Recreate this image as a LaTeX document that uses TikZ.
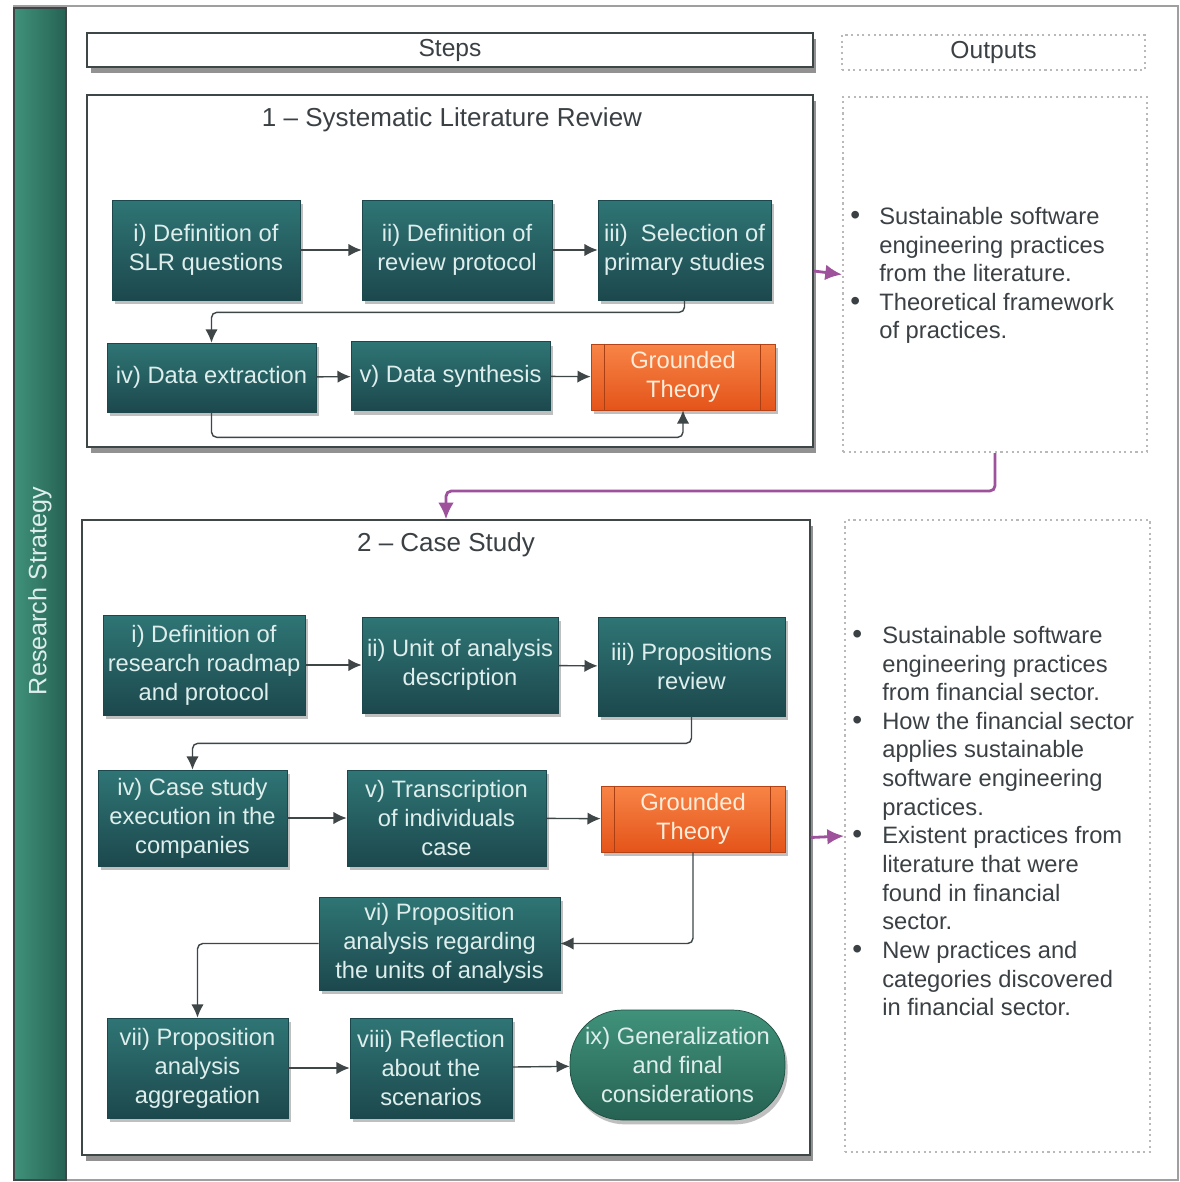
\documentclass[tikz,border=0pt]{standalone}
\usepackage{fontspec}
\setmainfont{Liberation Sans}
\usetikzlibrary{arrows.meta}
\usetikzlibrary{positioning}
\usetikzlibrary{shadows}
\definecolor{mteal}{RGB}{47,117,117}
\definecolor{mtealdark}{RGB}{28,72,77}
\definecolor{mgreen}{RGB}{64,146,122}
\definecolor{mgreendark}{RGB}{38,98,83}
\definecolor{morange}{RGB}{248,132,70}
\definecolor{morangedark}{RGB}{228,84,26}
\definecolor{mpurple}{RGB}{158,82,156}
\definecolor{mink}{RGB}{58,64,68}
\definecolor{mline}{RGB}{62,70,72}
\definecolor{mpale}{RGB}{222,238,236}
\newcommand{\boxfont}{\fontsize{13.5}{16.5}\selectfont}
\newcommand{\listfont}{\fontsize{13.5}{16.3}\selectfont}
\newcommand{\dotitem}{{\fontsize{16}{16}\selectfont\textbullet}}
\tikzset{stepbox/.style = {draw=mtealdark, top color=mteal, bottom color=mtealdark,
                           text=mpale, font=\boxfont, align=center, inner sep=2pt,
                           drop shadow={shadow xshift=1.5pt, shadow yshift=-2.5pt, opacity=0.5}},
         gtbox/.style = {stepbox, draw=morangedark!80!black, top color=morange,
                         bottom color=morangedark, text=orange!15},
         endbox/.style = {stepbox, top color=mgreen, bottom color=mgreendark,
                          draw=mgreendark!80!black, rounded corners=1.05cm},
         panel/.style = {draw=mline, fill=white, line width=0.9pt,
                         drop shadow={shadow xshift=2pt, shadow yshift=-3.5pt, opacity=0.85}},
         outbox/.style = {draw=gray!55, dotted, line width=1.2pt},
         flow/.style = {-{Latex[length=7.5pt, width=7pt]}, draw=mline, line width=0.8pt, rounded corners=3pt},
         link/.style = {-{Latex[length=9.5pt, width=9pt]}, draw=mpurple, line width=1.6pt, rounded corners=3pt},
         gtline/.style = {draw=morangedark!75!black, line width=0.6pt}}

\begin{document}
\begin{tikzpicture}[x=0.02cm, y=-0.02cm]
    \useasboundingbox (0,0) rectangle (1179,1182);
    \fill [white] (0,0) rectangle (1179,1182);

    \draw [gray!75, line width=1.2pt] (14,6) rectangle (1178,1180);
    \shade [left color=mgreen, right color=mgreendark, draw=mline, line width=0.8pt] (14,8) rectangle (66,1180);
    \node [rotate=90, text=mpale, font=\fontsize{14.3}{17}\selectfont] (strategy) at (40,591) {Research Strategy};

    \node [panel, minimum width=14.52cm, minimum height=0.68cm, text=mink, font=\fontsize{14}{17}\selectfont] (steps) at (450,50) {Steps};
    \node [outbox, minimum width=6.06cm, minimum height=0.7cm, text=mink, font=\fontsize{14}{17}\selectfont] (outputs) at (993.5,52.5) {Outputs};

    % systematic literature review
    \node [panel, minimum width=14.52cm, minimum height=7.04cm] (slr) at (450,271) {};
    \node [text=mink, font=\fontsize{14.8}{18}\selectfont] (slrtitle) at (452,120) {1 -- Systematic Literature Review};

    \node [stepbox, minimum width=3.76cm, minimum height=2cm] (slrq) at (206,250) {i) Definition of\\SLR questions};
    \node [stepbox, minimum width=3.8cm, minimum height=2cm] (slrprot) at (457,250) {ii) Definition of\\review protocol};
    \node [stepbox, minimum width=3.46cm, minimum height=2cm] (slrsel) at (684.5,250) {iii)~ Selection of\\primary studies};
    \node [stepbox, minimum width=4.18cm, minimum height=1.38cm] (slrext) at (211.5,377.5) {iv) Data extraction};
    \node [stepbox, minimum width=3.98cm, minimum height=1.38cm] (slrsyn) at (450.5,376) {v) Data synthesis};
    \node [gtbox, minimum width=3.68cm, minimum height=1.32cm] (slrgt) at (683,377) {Grounded\\Theory};
    \draw [gtline] ([xshift=0.28cm]slrgt.north west) -- ([xshift=0.28cm]slrgt.south west);
    \draw [gtline] ([xshift=-0.3cm]slrgt.north east) -- ([xshift=-0.3cm]slrgt.south east);

    \draw [flow] (slrq) -- (slrprot);
    \draw [flow] (slrprot) -- (slrsel);
    \draw [flow] (slrsel.south) -- ++(0,12) -| (slrext.north);
    \draw [flow] (slrext) -- (slrsyn);
    \draw [flow] (slrsyn) -- (slrgt);
    \draw [flow] (slrext.south) -- ++(0,25) -| (slrgt.south);

    \node [outbox, minimum width=6.08cm, minimum height=7.1cm] (slroutbox) at (995,274.5) {};
    \node [anchor=north west, inner sep=0pt, text=mink, font=\listfont] (slrout) at (850,204)
      {\begin{tabular}{@{}p{0.58cm}@{}l@{}}
         \dotitem & Sustainable software\\
                  & engineering practices\\
                  & from the literature.\\
         \dotitem & Theoretical framework\\
                  & of practices.
       \end{tabular}};

    % case study
    \node [panel, minimum width=14.56cm, minimum height=12.7cm] (cs) at (446,837.5) {};
    \node [text=mink, font=\fontsize{14.8}{18}\selectfont] (cstitle) at (446,545) {2 -- Case Study};

    \node [stepbox, minimum width=4.04cm, minimum height=2cm] (csroad) at (204,665) {i) Definition of\\research roadmap\\and protocol};
    \node [stepbox, minimum width=3.92cm, minimum height=1.92cm] (csunit) at (460,665) {ii) Unit of analysis\\description};
    \node [stepbox, minimum width=3.74cm, minimum height=1.98cm] (csprop) at (691.5,666.5) {iii) Propositions\\review};
    \node [stepbox, minimum width=3.78cm, minimum height=1.92cm] (csexec) at (192.5,818) {iv) Case study\\execution in the\\companies};
    \node [stepbox, minimum width=3.98cm, minimum height=1.92cm] (cstrans) at (446.5,818) {v) Transcription\\of individuals\\case};
    \node [gtbox, minimum width=3.68cm, minimum height=1.32cm] (csgt) at (693,819) {Grounded\\Theory};
    \draw [gtline] ([xshift=0.28cm]csgt.north west) -- ([xshift=0.28cm]csgt.south west);
    \draw [gtline] ([xshift=-0.3cm]csgt.north east) -- ([xshift=-0.3cm]csgt.south east);
    \node [stepbox, minimum width=4.82cm, minimum height=1.86cm] (csanal) at (439.5,943.5) {vi) Proposition\\analysis regarding\\the units of analysis};
    \node [stepbox, minimum width=3.62cm, minimum height=2cm] (csaggr) at (197.5,1068) {vii) Proposition\\analysis\\aggregation};
    \node [stepbox, minimum width=3.24cm, minimum height=2cm] (csrefl) at (431,1068) {viii) Reflection\\about the\\scenarios};
    \node [endbox, minimum width=4.3cm, minimum height=2.2cm] (csgen) at (677.5,1065) {ix) Generalization\\and final\\considerations};

    \draw [flow] (csroad) -- (csunit);
    \draw [flow] (csunit) -- (csprop);
    \draw [flow] (csprop.south) -- ++(0,27) -| (csexec.north);
    \draw [flow] (csexec) -- (cstrans);
    \draw [flow] (cstrans) -- (csgt);
    \draw [flow] (csgt.south) |- (csanal.east);
    \draw [flow] (csanal.west) -| (csaggr.north);
    \draw [flow] (csaggr) -- (csrefl);
    \draw [flow] (csrefl) -- (csgen);

    \node [outbox, minimum width=6.1cm, minimum height=12.64cm] (csoutbox) at (997.5,836) {};
    \node [anchor=north west, inner sep=0pt, text=mink, font=\listfont] (csout) at (852,623)
      {\begin{tabular}{@{}p{0.6cm}@{}l@{}}
         \dotitem & Sustainable software\\
                  & engineering practices\\
                  & from financial sector.\\
         \dotitem & How the financial sector\\
                  & applies sustainable\\
                  & software engineering\\
                  & practices.\\
         \dotitem & Existent practices from\\
                  & literature that were\\
                  & found in financial\\
                  & sector.\\
         \dotitem & New practices and\\
                  & categories discovered\\
                  & in financial sector.
       \end{tabular}};

    % outputs links
    \draw [link] (slr.east) -- (slroutbox.west);
    \draw [link] (slroutbox.south) -- ++(0,38) -| (cs.north);
    \draw [link] (cs.east) -- (csoutbox.west);
\end{tikzpicture}
\end{document}
